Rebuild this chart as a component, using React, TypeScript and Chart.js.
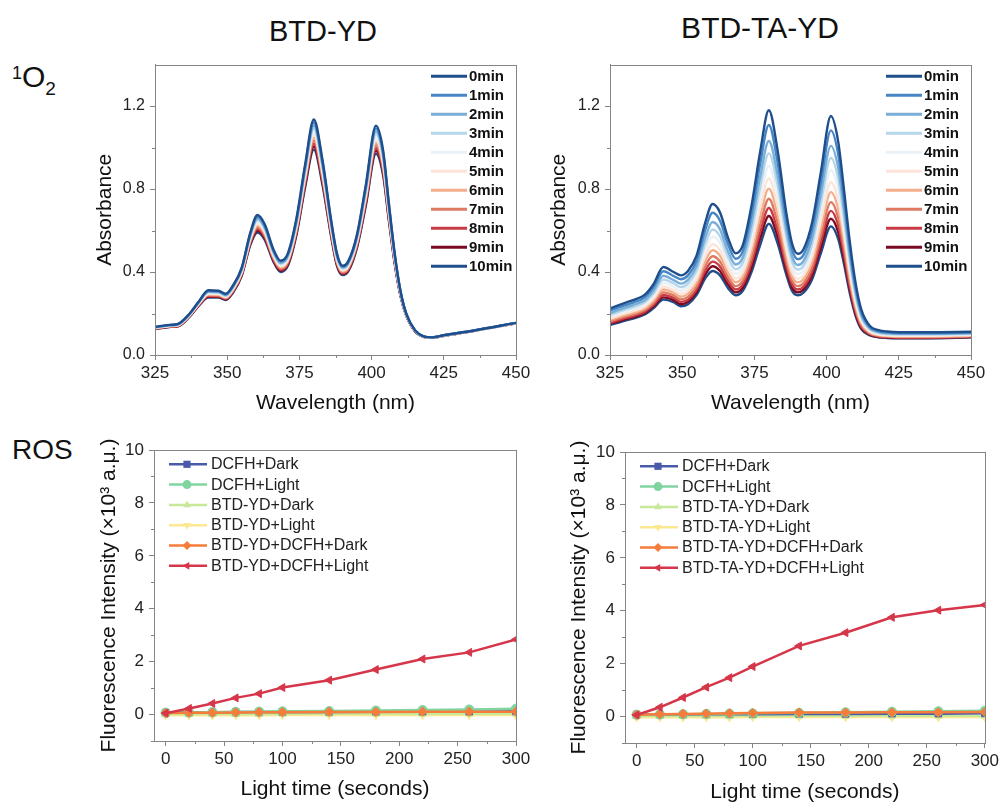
import React, { useEffect, useRef } from "react";
import { Chart, registerables } from "chart.js";

Chart.register(...registerables);

// ---------------- data ----------------
const WAVELENGTH = [325, 330, 333, 337, 340, 343.5, 347, 349.5, 352, 355, 358, 360.5, 363, 366, 368.5, 371, 374, 377, 380, 383, 386, 388, 390, 392, 395, 398, 401.5, 404, 406, 408, 410, 412, 415, 418, 421, 425, 435, 450];

const MINUTE_LABELS = ["0min", "1min", "2min", "3min", "4min", "5min", "6min", "7min", "8min", "9min", "10min"];

const YD_0MIN = [0.136, 0.145, 0.150, 0.200, 0.255, 0.312, 0.310, 0.295, 0.335, 0.420, 0.590, 0.675, 0.630, 0.510, 0.455, 0.490, 0.660, 0.920, 1.135, 0.940, 0.650, 0.490, 0.430, 0.455, 0.585, 0.820, 1.105, 0.985, 0.730, 0.490, 0.310, 0.200, 0.120, 0.090, 0.085, 0.095, 0.117, 0.155];
const YD_1MIN = [0.135, 0.144, 0.149, 0.199, 0.253, 0.309, 0.307, 0.292, 0.332, 0.416, 0.584, 0.667, 0.623, 0.504, 0.450, 0.484, 0.652, 0.909, 1.121, 0.928, 0.642, 0.484, 0.426, 0.450, 0.579, 0.810, 1.092, 0.973, 0.722, 0.485, 0.308, 0.199, 0.120, 0.090, 0.085, 0.095, 0.117, 0.155];
const YD_2MIN = [0.134, 0.143, 0.148, 0.197, 0.251, 0.305, 0.304, 0.289, 0.328, 0.412, 0.578, 0.658, 0.615, 0.498, 0.444, 0.478, 0.644, 0.898, 1.106, 0.916, 0.634, 0.478, 0.421, 0.445, 0.572, 0.800, 1.078, 0.961, 0.713, 0.480, 0.305, 0.198, 0.119, 0.090, 0.085, 0.095, 0.117, 0.155];
const YD_3MIN = [0.133, 0.142, 0.146, 0.196, 0.249, 0.302, 0.301, 0.286, 0.325, 0.408, 0.572, 0.650, 0.608, 0.492, 0.439, 0.472, 0.636, 0.887, 1.092, 0.904, 0.626, 0.472, 0.417, 0.440, 0.566, 0.790, 1.065, 0.949, 0.705, 0.475, 0.303, 0.197, 0.119, 0.089, 0.084, 0.094, 0.116, 0.154];
const YD_4MIN = [0.132, 0.141, 0.145, 0.194, 0.247, 0.298, 0.297, 0.283, 0.321, 0.404, 0.566, 0.641, 0.600, 0.486, 0.433, 0.466, 0.628, 0.876, 1.077, 0.892, 0.618, 0.466, 0.412, 0.435, 0.559, 0.780, 1.051, 0.937, 0.696, 0.470, 0.300, 0.196, 0.118, 0.089, 0.084, 0.094, 0.116, 0.154];
const YD_5MIN = [0.131, 0.140, 0.144, 0.193, 0.245, 0.295, 0.294, 0.280, 0.318, 0.400, 0.560, 0.633, 0.593, 0.480, 0.428, 0.460, 0.620, 0.865, 1.063, 0.880, 0.610, 0.460, 0.408, 0.430, 0.553, 0.770, 1.038, 0.925, 0.688, 0.465, 0.298, 0.195, 0.118, 0.089, 0.084, 0.094, 0.116, 0.154];
const YD_6MIN = [0.129, 0.139, 0.143, 0.191, 0.243, 0.291, 0.290, 0.277, 0.314, 0.396, 0.554, 0.624, 0.585, 0.474, 0.422, 0.454, 0.612, 0.854, 1.048, 0.868, 0.602, 0.454, 0.403, 0.425, 0.546, 0.760, 1.024, 0.913, 0.679, 0.460, 0.295, 0.194, 0.117, 0.089, 0.084, 0.094, 0.116, 0.154];
const YD_7MIN = [0.128, 0.138, 0.142, 0.190, 0.241, 0.288, 0.287, 0.274, 0.311, 0.392, 0.548, 0.616, 0.578, 0.468, 0.417, 0.448, 0.604, 0.843, 1.034, 0.856, 0.594, 0.448, 0.399, 0.420, 0.540, 0.750, 1.011, 0.901, 0.671, 0.455, 0.293, 0.193, 0.117, 0.088, 0.083, 0.093, 0.115, 0.153];
const YD_8MIN = [0.127, 0.137, 0.140, 0.188, 0.239, 0.284, 0.283, 0.271, 0.307, 0.388, 0.542, 0.607, 0.570, 0.462, 0.411, 0.442, 0.596, 0.832, 1.019, 0.844, 0.586, 0.442, 0.394, 0.415, 0.533, 0.740, 0.997, 0.889, 0.662, 0.450, 0.290, 0.192, 0.116, 0.088, 0.083, 0.093, 0.115, 0.153];
const YD_9MIN = [0.126, 0.136, 0.139, 0.187, 0.237, 0.281, 0.280, 0.268, 0.304, 0.384, 0.536, 0.599, 0.563, 0.456, 0.406, 0.436, 0.588, 0.821, 1.005, 0.832, 0.578, 0.436, 0.390, 0.410, 0.527, 0.730, 0.984, 0.877, 0.654, 0.445, 0.288, 0.191, 0.115, 0.088, 0.083, 0.093, 0.115, 0.153];
const YD_10MIN = [0.125, 0.135, 0.138, 0.185, 0.235, 0.277, 0.277, 0.265, 0.300, 0.380, 0.530, 0.590, 0.555, 0.450, 0.400, 0.430, 0.580, 0.810, 0.990, 0.820, 0.570, 0.430, 0.385, 0.405, 0.520, 0.720, 0.970, 0.865, 0.645, 0.440, 0.285, 0.190, 0.115, 0.088, 0.083, 0.093, 0.115, 0.153];

const TA_0MIN = [0.224, 0.250, 0.265, 0.290, 0.340, 0.424, 0.400, 0.384, 0.405, 0.480, 0.640, 0.728, 0.690, 0.560, 0.490, 0.530, 0.720, 0.980, 1.180, 0.990, 0.690, 0.540, 0.488, 0.510, 0.640, 0.880, 1.152, 1.030, 0.800, 0.550, 0.350, 0.220, 0.140, 0.120, 0.113, 0.110, 0.110, 0.112];
const TA_1MIN = [0.214, 0.239, 0.253, 0.278, 0.325, 0.404, 0.381, 0.365, 0.384, 0.455, 0.605, 0.686, 0.650, 0.529, 0.464, 0.501, 0.678, 0.922, 1.109, 0.932, 0.651, 0.510, 0.462, 0.483, 0.604, 0.829, 1.083, 0.969, 0.753, 0.518, 0.329, 0.208, 0.134, 0.115, 0.109, 0.106, 0.106, 0.108];
const TA_2MIN = [0.202, 0.227, 0.241, 0.264, 0.309, 0.382, 0.361, 0.344, 0.362, 0.429, 0.567, 0.641, 0.608, 0.495, 0.436, 0.471, 0.634, 0.859, 1.032, 0.869, 0.609, 0.478, 0.434, 0.453, 0.566, 0.775, 1.008, 0.903, 0.703, 0.483, 0.307, 0.194, 0.128, 0.111, 0.105, 0.102, 0.102, 0.105];
const TA_3MIN = [0.194, 0.218, 0.231, 0.254, 0.296, 0.364, 0.345, 0.327, 0.344, 0.408, 0.537, 0.605, 0.574, 0.469, 0.413, 0.446, 0.598, 0.809, 0.972, 0.819, 0.576, 0.453, 0.412, 0.430, 0.536, 0.732, 0.950, 0.851, 0.663, 0.455, 0.289, 0.184, 0.123, 0.107, 0.101, 0.099, 0.099, 0.102];
const TA_4MIN = [0.185, 0.208, 0.221, 0.243, 0.284, 0.347, 0.329, 0.311, 0.327, 0.387, 0.508, 0.570, 0.541, 0.442, 0.391, 0.422, 0.563, 0.760, 0.912, 0.770, 0.543, 0.427, 0.390, 0.407, 0.505, 0.689, 0.891, 0.800, 0.624, 0.428, 0.272, 0.173, 0.118, 0.103, 0.098, 0.095, 0.095, 0.099];
const TA_5MIN = [0.176, 0.199, 0.211, 0.233, 0.271, 0.330, 0.313, 0.295, 0.309, 0.366, 0.478, 0.534, 0.507, 0.416, 0.369, 0.398, 0.528, 0.710, 0.851, 0.720, 0.510, 0.402, 0.368, 0.384, 0.475, 0.646, 0.833, 0.748, 0.584, 0.400, 0.254, 0.163, 0.113, 0.099, 0.094, 0.092, 0.092, 0.096];
const TA_6MIN = [0.169, 0.191, 0.203, 0.224, 0.261, 0.316, 0.300, 0.281, 0.295, 0.349, 0.454, 0.505, 0.480, 0.394, 0.351, 0.378, 0.499, 0.670, 0.802, 0.680, 0.483, 0.381, 0.350, 0.365, 0.450, 0.611, 0.785, 0.706, 0.552, 0.378, 0.240, 0.154, 0.109, 0.096, 0.092, 0.089, 0.089, 0.093];
const TA_7MIN = [0.162, 0.184, 0.195, 0.216, 0.250, 0.302, 0.287, 0.268, 0.280, 0.332, 0.429, 0.476, 0.452, 0.373, 0.332, 0.358, 0.470, 0.629, 0.753, 0.639, 0.456, 0.361, 0.332, 0.346, 0.426, 0.576, 0.737, 0.663, 0.519, 0.355, 0.225, 0.146, 0.105, 0.093, 0.089, 0.087, 0.087, 0.091];
const TA_8MIN = [0.155, 0.177, 0.188, 0.208, 0.241, 0.289, 0.275, 0.256, 0.267, 0.317, 0.408, 0.450, 0.428, 0.354, 0.316, 0.341, 0.445, 0.593, 0.709, 0.603, 0.432, 0.342, 0.316, 0.329, 0.404, 0.545, 0.695, 0.626, 0.490, 0.335, 0.212, 0.138, 0.101, 0.090, 0.086, 0.084, 0.084, 0.089];
const TA_9MIN = [0.150, 0.171, 0.181, 0.202, 0.233, 0.278, 0.265, 0.245, 0.256, 0.303, 0.389, 0.428, 0.406, 0.337, 0.302, 0.325, 0.422, 0.562, 0.670, 0.572, 0.411, 0.326, 0.302, 0.315, 0.384, 0.517, 0.657, 0.593, 0.465, 0.318, 0.201, 0.132, 0.098, 0.087, 0.084, 0.082, 0.082, 0.087];
const TA_10MIN = [0.144, 0.165, 0.175, 0.195, 0.225, 0.267, 0.255, 0.235, 0.245, 0.290, 0.370, 0.405, 0.385, 0.320, 0.288, 0.310, 0.400, 0.530, 0.632, 0.540, 0.390, 0.310, 0.288, 0.300, 0.365, 0.490, 0.620, 0.560, 0.440, 0.300, 0.190, 0.125, 0.095, 0.085, 0.082, 0.080, 0.080, 0.085];

const WL_TICKS = [325, 350, 375, 400, 425, 450];
const WL_MINOR = [337.5, 362.5, 387.5, 412.5, 437.5];
const ABS_TICKS = [0, 0.4, 0.8, 1.2];
const ABS_MINOR = [0.2, 0.6, 1.0];

const TIME = [0, 20, 40, 60, 80, 100, 140, 180, 220, 260, 300];

const YD_LABELS = ["DCFH+Dark", "DCFH+Light", "BTD-YD+Dark", "BTD-YD+Light", "BTD-YD+DCFH+Dark", "BTD-YD+DCFH+Light"];
const YD_DCFH_DARK = [0.08, 0.08, 0.09, 0.10, 0.10, 0.10, 0.10, 0.11, 0.11, 0.11, 0.12];
const YD_DCFH_LIGHT = [0.07, 0.08, 0.09, 0.10, 0.11, 0.12, 0.13, 0.15, 0.17, 0.19, 0.22];
const YD_DARK = [0.02, 0.02, 0.02, 0.02, 0.02, 0.03, 0.03, 0.03, 0.03, 0.03, 0.03];
const YD_LIGHT = [-0.03, -0.03, -0.03, -0.02, -0.03, -0.02, -0.02, -0.02, -0.02, -0.02, -0.02];
const YD_PS_DARK = [0.06, 0.07, 0.07, 0.08, 0.09, 0.09, 0.10, 0.10, 0.11, 0.11, 0.11];
const YD_PS_LIGHT = [0.05, 0.23, 0.42, 0.63, 0.79, 1.02, 1.30, 1.70, 2.10, 2.35, 2.84];

const TA_LABELS = ["DCFH+Dark", "DCFH+Light", "BTD-TA-YD+Dark", "BTD-TA-YD+Light", "BTD-TA-YD+DCFH+Dark", "BTD-TA-YD+DCFH+Light"];
const TA_DCFH_DARK = [0.08, 0.08, 0.08, 0.09, 0.09, 0.09, 0.10, 0.10, 0.11, 0.11, 0.12];
const TA_DCFH_LIGHT = [0.07, 0.08, 0.09, 0.10, 0.11, 0.12, 0.14, 0.16, 0.18, 0.20, 0.22];
const TA_DARK = [0.02, 0.02, 0.02, 0.02, 0.02, 0.03, 0.03, 0.03, 0.03, 0.03, 0.03];
const TA_LIGHT = [-0.03, -0.03, -0.03, -0.02, -0.03, -0.02, -0.02, -0.02, -0.02, -0.02, -0.02];
const TA_PS_DARK = [0.07, 0.09, 0.10, 0.11, 0.12, 0.13, 0.15, 0.15, 0.16, 0.16, 0.17];
const TA_PS_LIGHT = [0.06, 0.35, 0.72, 1.11, 1.47, 1.89, 2.67, 3.17, 3.75, 4.02, 4.22];

const TIME_TICKS = [0, 50, 100, 150, 200, 250, 300];
const TIME_MINOR = [25, 75, 125, 175, 225, 275];
const FL_TICKS = [0, 2, 4, 6, 8, 10];
const FL_MINOR = [-1, 1, 3, 5, 7, 9];

// ---------------- styles ----------------
const FONT = "Arial, 'Liberation Sans', sans-serif";
const AXIS = "#858585";
const SPEC_COLORS = ["#1f4e8c", "#4686c4", "#78aed7", "#b5d6ea", "#eaf1f6", "#fce5d8", "#f5ae8c", "#dd7a62", "#c83a46", "#7a0b22", "#1f4e8c"];
const ROS_COLORS = ["#4a5aaa", "#80d4a0", "#c8e89a", "#fbe890", "#f57c3a", "#d6364a"];
const ROS_STYLES: [string, number][] = [["rect", 0], ["circle", 0], ["triangle", 0], ["triangle", 180], ["rectRot", 0], ["triangle", 270]];
const ROS_ORDER = [3, 2, 4, 5, 1, 0];

function drawMarker(ctx: CanvasRenderingContext2D, style: string, rot: number, x: number, y: number, r: number) {
  ctx.beginPath();
  if (style === "circle") ctx.arc(x, y, r, 0, Math.PI * 2);
  else if (style === "rect") ctx.rect(x - r * 0.8, y - r * 0.8, r * 1.6, r * 1.6);
  else if (style === "rectRot") {
    ctx.moveTo(x, y - r); ctx.lineTo(x + r, y); ctx.lineTo(x, y + r); ctx.lineTo(x - r, y); ctx.closePath();
  } else {
    for (let k = 0; k < 3; k++) {
      const a = ((rot - 90) * Math.PI) / 180 + (k * 2 * Math.PI) / 3;
      const px = x + r * Math.cos(a), py = y + r * Math.sin(a);
      if (k === 0) ctx.moveTo(px, py); else ctx.lineTo(px, py);
    }
    ctx.closePath();
  }
  ctx.fill();
}

function framePlugin(xMinor: number[], yMinor: number[]) {
  return {
    id: "frame",
    afterDraw(chart: any) {
      const { ctx, chartArea: a, scales } = chart;
      ctx.save();
      ctx.strokeStyle = AXIS;
      ctx.lineWidth = 1;
      ctx.strokeRect(Math.round(a.left) + 0.5, Math.round(a.top) + 0.5, Math.round(a.right - a.left), Math.round(a.bottom - a.top));
      ctx.beginPath();
      xMinor.forEach((v) => {
        const px = Math.round(scales.x.getPixelForValue(v)) + 0.5;
        ctx.moveTo(px, a.bottom); ctx.lineTo(px, a.bottom + 3);
      });
      yMinor.forEach((v) => {
        const py = Math.round(scales.y.getPixelForValue(v)) + 0.5;
        ctx.moveTo(a.left, py); ctx.lineTo(a.left - 3, py);
      });
      ctx.stroke();
      ctx.restore();
    },
  };
}

function specLegendPlugin() {
  return {
    id: "specLegend",
    afterDraw(chart: any) {
      const { ctx, chartArea: a } = chart;
      ctx.save();
      ctx.font = `bold 15px ${FONT}`;
      ctx.textBaseline = "middle";
      ctx.textAlign = "left";
      chart.data.datasets.forEach((ds: any, i: number) => {
        const y = a.top + 11.7 + i * 19.0;
        ctx.strokeStyle = ds.borderColor;
        ctx.lineWidth = 3;
        ctx.beginPath();
        ctx.moveTo(a.right - 85, y); ctx.lineTo(a.right - 49, y);
        ctx.stroke();
        ctx.fillStyle = "#111";
        ctx.fillText(ds.label, a.right - 47, y + 0.5);
      });
      ctx.restore();
    },
  };
}

function rosLegendPlugin() {
  return {
    id: "rosLegend",
    afterDraw(chart: any) {
      const { ctx, chartArea: a } = chart;
      ctx.save();
      ctx.font = `16px ${FONT}`;
      ctx.textBaseline = "middle";
      ctx.textAlign = "left";
      chart.data.datasets.forEach((ds: any, i: number) => {
        const y = a.top + 14.3 + i * 20.3;
        ctx.strokeStyle = ds.borderColor;
        ctx.lineWidth = 2.5;
        ctx.beginPath();
        ctx.moveTo(a.left + 15, y); ctx.lineTo(a.left + 53, y);
        ctx.stroke();
        ctx.fillStyle = ds.borderColor;
        drawMarker(ctx, ds.pointStyle, ds.pointRotation, a.left + 33, y, 4.5);
        ctx.fillStyle = "#222";
        ctx.fillText(ds.label, a.left + 57, y + 0.5);
      });
      ctx.restore();
    },
  };
}

type AxisOpts = {
  xMin: number; xMax: number; xTicks: number[]; xTitle: string; xH: number; xTitlePad: number; xFont: number;
  yMin: number; yMax: number; yTicks: number[]; yTitle: string; yW: number; yTitlePad: number; yFont: number;
  yFmt: (v: number) => string;
};

function buildScales(o: AxisOpts) {
  const grid = { drawOnChartArea: false, drawTicks: true, tickLength: 5, color: AXIS, lineWidth: 1 };
  const border = { display: true, color: AXIS, width: 1 };
  return {
    x: {
      type: "linear",
      min: o.xMin,
      max: o.xMax,
      afterBuildTicks: (s: any) => { s.ticks = o.xTicks.map((v) => ({ value: v })); },
      afterFit: (s: any) => { s.height = o.xH; },
      grid, border,
      ticks: { font: { size: o.xFont, family: FONT }, color: "#222", padding: 3, maxRotation: 0, autoSkip: false, callback: (v: any) => String(v) },
      title: { display: true, text: o.xTitle, color: "#111", font: { size: 21, family: FONT }, padding: { top: 0, bottom: o.xTitlePad } },
    },
    y: {
      type: "linear",
      min: o.yMin,
      max: o.yMax,
      afterBuildTicks: (s: any) => { s.ticks = o.yTicks.map((v) => ({ value: v })); },
      afterFit: (s: any) => { s.width = o.yW; },
      grid, border,
      ticks: { font: { size: o.yFont, family: FONT }, color: "#222", padding: 5, autoSkip: false, callback: (v: any) => o.yFmt(Number(v)) },
      title: { display: true, text: o.yTitle, color: "#111", font: { size: 21, family: FONT }, padding: { top: o.yTitlePad, bottom: 0 } },
    },
  };
}

function spectraConfig(series: number[][], yW: number, padTop: number, padRight: number, xH: number, yTitlePad: number, xTitlePad: number) {
  return {
    type: "line",
    data: {
      datasets: series.map((vals, i) => ({
        label: MINUTE_LABELS[i],
        data: WAVELENGTH.map((w, j) => ({ x: w, y: vals[j] })),
        borderColor: SPEC_COLORS[i],
        backgroundColor: SPEC_COLORS[i],
        borderWidth: 2.4,
        pointRadius: 0,
        cubicInterpolationMode: "monotone",
        fill: false,
      })),
    },
    options: {
      responsive: false,
      animation: false,
      events: [],
      layout: { padding: { top: padTop, right: padRight, left: 0, bottom: 0 } },
      plugins: { legend: { display: false }, tooltip: { enabled: false }, title: { display: false } },
      scales: buildScales({
        xMin: 325, xMax: 450, xTicks: WL_TICKS, xTitle: "Wavelength (nm)", xH, xTitlePad, xFont: 17,
        yMin: 0, yMax: 1.4, yTicks: ABS_TICKS, yTitle: "Absorbance", yW, yTitlePad, yFont: 16,
        yFmt: (v) => v.toFixed(1),
      }),
    },
    plugins: [framePlugin(WL_MINOR, ABS_MINOR), specLegendPlugin()],
  };
}

function rosConfig(labels: string[], series: number[][], yW: number, padTop: number, padRight: number, xH: number, yTitlePad: number, xTitlePad: number) {
  return {
    type: "line",
    data: {
      datasets: series.map((vals, i) => ({
        label: labels[i],
        data: TIME.map((t, j) => ({ x: t, y: vals[j] })),
        borderColor: ROS_COLORS[i],
        backgroundColor: ROS_COLORS[i],
        borderWidth: 2.5,
        pointStyle: ROS_STYLES[i][0],
        pointRotation: ROS_STYLES[i][1],
        pointRadius: 4.6,
        pointBorderWidth: 1,
        tension: 0,
        fill: false,
        order: ROS_ORDER[i],
      })),
    },
    options: {
      responsive: false,
      animation: false,
      events: [],
      layout: { padding: { top: padTop, right: padRight, left: 0, bottom: 0 } },
      plugins: { legend: { display: false }, tooltip: { enabled: false }, title: { display: false } },
      scales: buildScales({
        xMin: -10, xMax: 300, xTicks: TIME_TICKS, xTitle: "Light time (seconds)", xH, xTitlePad, xFont: 17,
        yMin: -1, yMax: 10, yTicks: FL_TICKS, yTitle: "Fluorescence Intensity (×10³ a.μ.)", yW, yTitlePad, yFont: 17,
        yFmt: (v) => String(v),
      }),
    },
    plugins: [framePlugin(TIME_MINOR, FL_MINOR), rosLegendPlugin()],
  };
}

function ChartPanel(props: { left: number; top: number; width: number; height: number; build: () => any }) {
  const ref = useRef<HTMLCanvasElement>(null);
  useEffect(() => {
    const chart = new Chart(ref.current as HTMLCanvasElement, props.build());
    return () => chart.destroy();
  }, []);
  return (
    <canvas
      ref={ref}
      width={props.width}
      height={props.height}
      style={{ position: "absolute", left: props.left, top: props.top, width: props.width, height: props.height }}
    />
  );
}

export default function App() {
  const ydSpectra = [YD_0MIN, YD_1MIN, YD_2MIN, YD_3MIN, YD_4MIN, YD_5MIN, YD_6MIN, YD_7MIN, YD_8MIN, YD_9MIN, YD_10MIN];
  const taSpectra = [TA_0MIN, TA_1MIN, TA_2MIN, TA_3MIN, TA_4MIN, TA_5MIN, TA_6MIN, TA_7MIN, TA_8MIN, TA_9MIN, TA_10MIN];
  const ydRos = [YD_DCFH_DARK, YD_DCFH_LIGHT, YD_DARK, YD_LIGHT, YD_PS_DARK, YD_PS_LIGHT];
  const taRos = [TA_DCFH_DARK, TA_DCFH_LIGHT, TA_DARK, TA_LIGHT, TA_PS_DARK, TA_PS_LIGHT];
  const label: React.CSSProperties = { position: "absolute", fontFamily: FONT, color: "#111", whiteSpace: "nowrap", lineHeight: 1 };
  return (
    <div style={{ position: "absolute", left: 0, top: 0, width: 1002, height: 802, overflow: "hidden", background: "#fff" }}>
      <div style={{ ...label, left: 323, top: 31, fontSize: 29, transform: "translate(-50%, -50%)" }}>BTD-YD</div>
      <div style={{ ...label, left: 760, top: 28, fontSize: 30, transform: "translate(-50%, -50%)" }}>BTD-TA-YD</div>
      <div style={{ ...label, left: 12, top: 62, fontSize: 30 }}>
        <span style={{ fontSize: 18, verticalAlign: "top", position: "relative", top: 2 }}>1</span>O
        <span style={{ fontSize: 19, position: "relative", top: 8 }}>2</span>
      </div>
      <div style={{ ...label, left: 12, top: 436, fontSize: 28 }}>ROS</div>

      <ChartPanel left={90} top={50} width={450} height={370} build={() => spectraConfig(ydSpectra, 65, 14, 24, 65, 3, 4)} />
      <ChartPanel left={544} top={50} width={451} height={370} build={() => spectraConfig(taSpectra, 66, 14, 24, 65, 3, 4)} />
      <ChartPanel left={94} top={428} width={446} height={374} build={() => rosConfig(YD_LABELS, ydRos, 60, 22, 24, 61, 3, 0)} />
      <ChartPanel left={564} top={430} width={438} height={378} build={() => rosConfig(TA_LABELS, taRos, 61, 22, 16, 65, 3, 3)} />
    </div>
  );
}
